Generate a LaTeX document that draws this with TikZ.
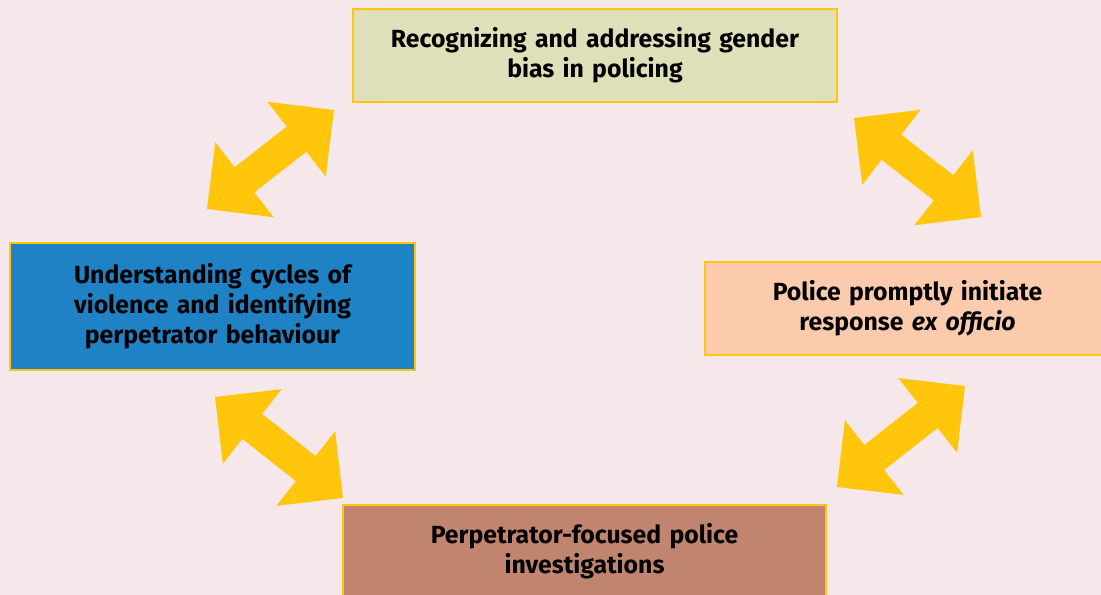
\documentclass[tikz,border=0pt]{standalone}
\usepackage{fontspec}
\setmainfont{Fira Sans}
\usetikzlibrary{calc}
\definecolor{bgc}{HTML}{F5E7EA}
\definecolor{arrc}{HTML}{FFC60B}
\definecolor{topc}{HTML}{DFE0B9}
\definecolor{leftc}{HTML}{1E82C4}
\definecolor{rightc}{HTML}{FCCBAE}
\definecolor{botc}{HTML}{C1856F}
\tikzset{
  box/.style={draw=arrc, line width=2bp, rectangle, align=center, inner sep=0pt,
    font=\fontsize{24.8bp}{30bp}\selectfont\bfseries, text=black},
  arrowfill/.style={fill=arrc, draw=none}
}
\newcommand\dblarrow[2]{%
  \fill[arrowfill] (#1)
   -- ($(#1)!67.2bp!45:(#2)$)
   -- ($(#1)!50.1bp!18.6:(#2)$)
   -- ($(#2)!50.1bp!-18.6:(#1)$)
   -- ($(#2)!67.2bp!-45:(#1)$)
   -- (#2)
   -- ($(#2)!67.2bp!45:(#1)$)
   -- ($(#2)!50.1bp!18.6:(#1)$)
   -- ($(#1)!50.1bp!-18.6:(#2)$)
   -- ($(#1)!67.2bp!-45:(#2)$)
   -- cycle;}
\begin{document}
\begin{tikzpicture}[x=1bp,y=-1bp]
\useasboundingbox (0,0) rectangle (1101,595);
\fill[bgc] (0,0) rectangle (1101,595);
\clip (0,0) rectangle (1101,595);
\node[box, fill=topc, minimum width=484bp, minimum height=93bp, text width=480bp] (top) at (595,55.5)
  {Recognizing and addressing gender\\bias in policing};
\node[box, fill=leftc, minimum width=405bp, minimum height=127bp, text width=400bp] (left) at (212.5,306.5)
  {Understanding cycles of\\violence and identifying\\perpetrator behaviour};
\node[box, fill=rightc, minimum width=405bp, minimum height=93bp, text width=400bp] (right) at (907.5,308.5)
  {Police promptly initiate\\response \textit{ex officio}};
\node[box, fill=botc, minimum width=483bp, minimum height=93bp, text width=480bp] (bottom) at (584.5,551.5)
  {Perpetrator-focused police\\investigations};
\coordinate (a1s) at (207,209);
\coordinate (a1e) at (334,110);
\coordinate (a2s) at (854,118);
\coordinate (a2e) at (981,217);
\coordinate (a3s) at (215,397);
\coordinate (a3e) at (343,498);
\coordinate (a4s) at (837,487);
\coordinate (a4e) at (965,386);
\dblarrow{a1s}{a1e}
\dblarrow{a2s}{a2e}
\dblarrow{a3s}{a3e}
\dblarrow{a4s}{a4e}
\end{tikzpicture}
\end{document}
